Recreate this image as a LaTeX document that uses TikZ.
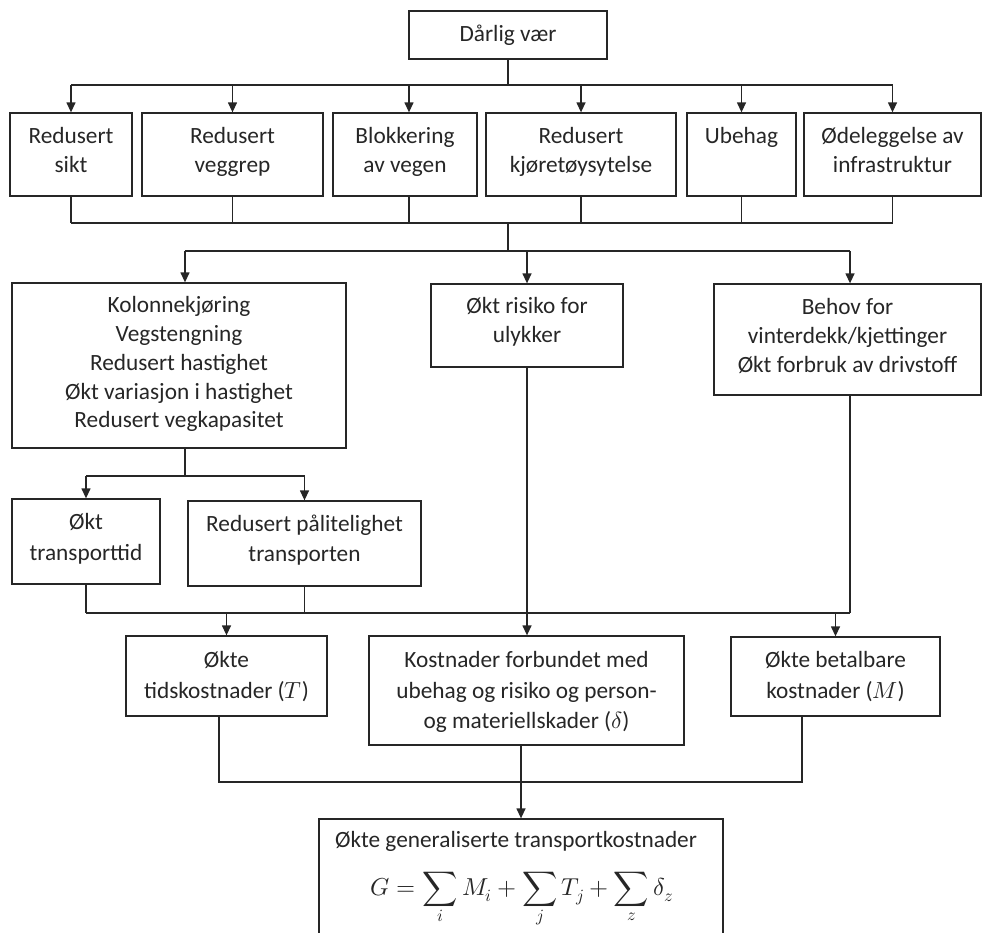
\documentclass[tikz,border=0pt]{standalone}
\usepackage{fontspec}
\usepackage{unicode-math}
\setmainfont{Carlito}
\setmathfont{Latin Modern Math}
\usetikzlibrary{arrows.meta}
\begin{document}
\begin{tikzpicture}[x=1pt,y=-1pt,
  box/.style={draw=black!85, line width=1.3pt, inner sep=0pt},
  txt/.style={inner sep=0pt, align=center, font=\fontsize{23.3}{28.8}\selectfont, text=black!85, anchor=north},
  con/.style={draw=black!85, line width=1.3pt},
  arr/.style={con, -{Triangle[length=10pt,width=9pt]}}]
\useasboundingbox (0,0) rectangle (982,932);
\clip (0,0) rectangle (982,932);

% top
\node[box, minimum width=198pt, minimum height=48pt, font=\fontsize{23.3}{29}\selectfont, text=black!85] (top) at (508,35) {Dårlig vær};

% row 1
\node[box, minimum width=122pt, minimum height=83pt] (r1a) at (71,154.5) {};
\node[box, minimum width=181pt, minimum height=83pt] (r1b) at (232.5,154.5) {};
\node[box, minimum width=144pt, minimum height=83pt] (r1c) at (405,154.5) {};
\node[box, minimum width=190pt, minimum height=83pt] (r1d) at (581,154.5) {};
\node[box, minimum width=109pt, minimum height=83pt] (r1e) at (741.5,154.5) {};
\node[box, minimum width=177pt, minimum height=83pt] (r1f) at (892.5,154.5) {};
\node[txt] (t1a) at (71,127.4) {Redusert\\sikt};
\node[txt] (t1b) at (232.5,127.4) {Redusert\\veggrep};
\node[txt] (t1c) at (405,127.4) {Blokkering\\av vegen};
\node[txt] (t1d) at (581,127.4) {Redusert\\kjøretøysytelse};
\node[txt] (t1e) at (741.5,127.4) {Ubehag};
\node[txt] (t1f) at (892.5,127.4) {Ødeleggelse av\\infrastruktur};

% row 2
\node[box, minimum width=334pt, minimum height=165pt] (A) at (179,365.5) {};
\node[box, minimum width=192pt, minimum height=83pt] (B) at (527,325.5) {};
\node[box, minimum width=267pt, minimum height=111pt] (C) at (847.5,339.5) {};
\node[txt] (tA) at (179,296.4) {Kolonnekjøring\\Vegstengning\\Redusert hastighet\\Økt variasjon i hastighet\\Redusert vegkapasitet};
\node[txt] (tB) at (527,297.4) {Økt risiko for\\ulykker};
\node[txt] (tC) at (847.5,298.4) {Behov for\\vinterdekk/kjettinger\\Økt forbruk av drivstoff};

% row 3
\node[box, minimum width=148pt, minimum height=85pt] (D) at (86,541.5) {};
\node[box, minimum width=233pt, minimum height=85pt] (E) at (304.5,543.5) {};
\node[txt, font=\fontsize{23.3}{31}\selectfont] (tD) at (86,513.4) {Økt\\transporttid};
\node[txt, font=\fontsize{23.3}{30}\selectfont] (tE) at (304.5,514.4) {Redusert pålitelighet\\transporten};

% row 4
\node[box, minimum width=201pt, minimum height=80pt] (F) at (226.5,676) {};
\node[box, minimum width=315pt, minimum height=109pt] (G) at (526.5,690.5) {};
\node[box, minimum width=209pt, minimum height=79pt] (H) at (835.5,676.5) {};
\node[txt, font=\fontsize{23.3}{30.5}\selectfont] (tF) at (226.5,651.4) {Økte\\tidskostnader ($T$)};
\node[txt, font=\fontsize{23.3}{30.5}\selectfont] (tG) at (526.5,651.4) {Kostnader forbundet med\\ubehag og risiko og person-\\og materiellskader ($\delta$)};
\node[txt, font=\fontsize{23.3}{30.5}\selectfont] (tH) at (835.5,651.4) {Økte betalbare\\kostnader ($M$)};

% final
\node[box, minimum width=404pt, minimum height=141pt] (I) at (521,889.5) {};
\node[txt] (tI) at (516,831.4) {Økte generaliserte transportkostnader};
\node[inner sep=0pt, anchor=base, font=\fontsize{24.5}{29}\selectfont, text=black!85] (fI) at (522,895) {$\displaystyle G=\sum_i M_i+\sum_j T_j+\sum_z \delta_z$};

% bus coordinates
\coordinate (bus1) at (0,85);
\coordinate (bus2) at (0,223);
\coordinate (bus3) at (0,251);
\coordinate (busA) at (0,476);
\coordinate (bus4) at (0,613);
\coordinate (bus5) at (0,782);
\coordinate (c1x) at ([xshift=4pt]r1c.north);
\coordinate (ax) at ([xshift=6pt]A.north);
\coordinate (cx) at ([xshift=2.5pt]C.north);
\coordinate (fx) at ([xshift=-7.5pt]F.south);
\coordinate (hx) at ([xshift=-33.5pt]H.south);

% top -> row 1
\draw[con] (top.south) -- (top.south |- bus1);
\draw[con] (r1a.north |- bus1) -- (r1f.north |- bus1);
\foreach \n in {r1a,r1b,r1d,r1e,r1f}{
  \draw[arr] (\n.north |- bus1) -- (\n.north);
  \draw[con] (\n.south) -- (\n.south |- bus2);
}
\draw[arr] (c1x |- bus1) -- (c1x);
\draw[con] (c1x |- r1c.south) -- (c1x |- bus2);
\draw[con] (r1a.south |- bus2) -- (r1f.south |- bus2);

% row 1 -> row 2
\draw[con] (top.south |- bus2) -- (top.south |- bus3);
\draw[con] (ax |- bus3) -- (cx |- bus3);
\draw[arr] (ax |- bus3) -- (ax);
\draw[arr] (B.north |- bus3) -- (B.north);
\draw[arr] (cx |- bus3) -- (cx);

% A -> row 3
\draw[con] (ax |- A.south) -- (ax |- busA);
\draw[con] (D.north |- busA) -- (E.north |- busA);
\draw[arr] (D.north |- busA) -- (D.north);
\draw[arr] (E.north |- busA) -- (E.north);

% row 3 and C -> row 4
\draw[con] (D.south) -- (D.south |- bus4);
\draw[con] (E.south) -- (E.south |- bus4);
\draw[con] (cx |- C.south) -- (cx |- bus4);
\draw[con] (D.south |- bus4) -- (cx |- bus4);
\draw[arr] (F.north |- bus4) -- (F.north);
\draw[arr] (H.north |- bus4) -- (H.north);
\draw[arr] (B.south) -- (B.south |- G.north);

% row 4 -> final
\draw[con] (fx) -- (fx |- bus5) -- (hx |- bus5) -- (hx);
\draw[arr] (I.north |- G.south) -- (I.north);
\end{tikzpicture}
\end{document}
